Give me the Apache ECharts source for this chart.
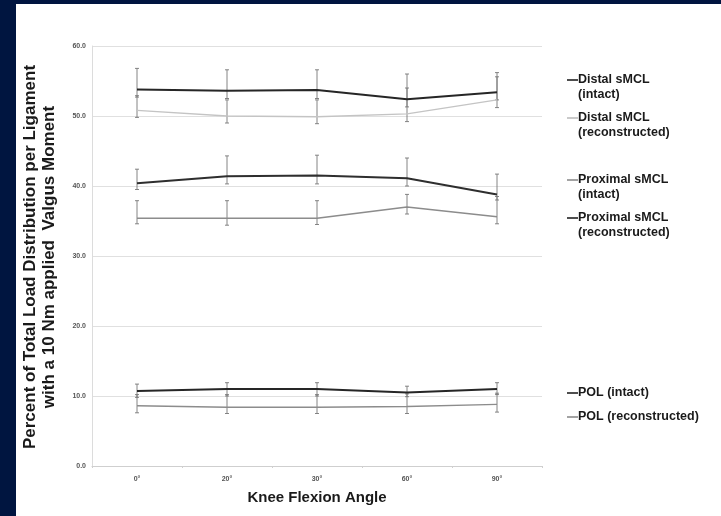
<!DOCTYPE html>
<html><head><meta charset="utf-8">
<script src="https://cdn.jsdelivr.net/npm/echarts@6/dist/echarts.min.js"></script>
<style>
html,body{margin:0;padding:0;background:#001540;width:721px;height:516px;overflow:hidden;}
#c{position:absolute;left:16px;top:4px;width:705px;height:512px;background:#fff;}
</style></head><body>
<div id="c"></div>
<script>
// Categories and tick labels
var angles = ['0°','20°','30°','60°','90°'];
var yTicks = [0, 10, 20, 30, 40, 50, 60];

// Means
var distalIntact   = [53.8, 53.6, 53.7, 52.4, 53.4];
var distalRecon    = [50.8, 50.0, 49.9, 50.3, 52.3];
var proxIntact     = [40.4, 41.4, 41.5, 41.1, 38.8];
var proxRecon      = [35.4, 35.4, 35.4, 37.0, 35.6];
var polIntact      = [10.7, 11.0, 11.0, 10.5, 11.0];
var polRecon       = [8.6, 8.4, 8.4, 8.5, 8.8];

// Error bar ends (upper / lower)
var distalIntactHi = [56.8, 56.6, 56.6, 56.0, 56.2];
var distalIntactLo = [52.7, 52.5, 52.5, 51.3, 52.3];
var distalReconHi  = [52.9, 52.3, 52.3, 54.0, 55.6];
var distalReconLo  = [49.8, 49.0, 48.9, 49.2, 51.2];
var proxIntactHi   = [42.4, 44.3, 44.4, 44.0, 41.7];
var proxIntactLo   = [39.5, 40.3, 40.3, 40.0, 38.0];
var proxReconHi    = [37.9, 37.9, 37.9, 38.8, 38.5];
var proxReconLo    = [34.6, 34.4, 34.5, 36.0, 34.6];
var polIntactHi    = [11.7, 11.9, 11.9, 11.4, 11.9];
var polIntactLo    = [9.8, 10.0, 10.0, 9.9, 10.2];
var polReconHi     = [10.2, 10.2, 10.2, 10.3, 10.4];
var polReconLo     = [7.6, 7.5, 7.5, 7.5, 7.7];

var names = ['Distal sMCL (intact)','Distal sMCL (reconstructed)','Proximal sMCL (intact)','Proximal sMCL (reconstructed)','POL (intact)','POL (reconstructed)'];
var means = [distalIntact, distalRecon, proxIntact, proxRecon, polIntact, polRecon];
var his = [distalIntactHi, distalReconHi, proxIntactHi, proxReconHi, polIntactHi, polReconHi];
var los = [distalIntactLo, distalReconLo, proxIntactLo, proxReconLo, polIntactLo, polReconLo];
var colors = ['#262626','#c4c4c4','#2e2e2e','#8c8c8c','#262626','#8c8c8c'];
var widths = [2, 1.4, 2, 1.6, 2, 1.4];

function errRender(params, api) {
  var x = api.value(0);
  var p1 = api.coord([x, api.value(1)]);
  var p2 = api.coord([x, api.value(2)]);
  var w = 2;
  var st = {stroke:'#777', lineWidth:0.9};
  return {type:'group', children:[
    {type:'line', shape:{x1:p1[0], y1:p1[1], x2:p2[0], y2:p2[1]}, style:st},
    {type:'line', shape:{x1:p1[0]-w, y1:p1[1], x2:p1[0]+w, y2:p1[1]}, style:st},
    {type:'line', shape:{x1:p2[0]-w, y1:p2[1], x2:p2[0]+w, y2:p2[1]}, style:st}
  ]};
}

var series = [];
for (var i = 0; i < names.length; i++) {
  var d = [];
  for (var j = 0; j < angles.length; j++) d.push([j, los[i][j], his[i][j]]);
  series.push({type:'custom', name:names[i]+' err', renderItem:errRender, data:d, z:1, silent:true, encode:{x:0, y:[1,2]}});
}
for (var k = 0; k < names.length; k++) {
  series.push({type:'line', name:names[k], data:means[k], symbol:'none', z:3,
    lineStyle:{color:colors[k], width:widths[k]}, itemStyle:{color:colors[k]}});
}

// Legend (placed beside the curves as in the original)
var legendItems = [
  {lines:['Distal sMCL','(intact)'], y:76, color:'#222'},
  {lines:['Distal sMCL','(reconstructed)'], y:114, color:'#bdbdbd'},
  {lines:['Proximal sMCL','(intact)'], y:176, color:'#8c8c8c'},
  {lines:['Proximal sMCL','(reconstructed)'], y:214, color:'#222'},
  {lines:['POL (intact)'], y:389, color:'#222'},
  {lines:['POL (reconstructed)'], y:413, color:'#8c8c8c'}
];
var graphics = [];
legendItems.forEach(function(it){
  graphics.push({type:'line', shape:{x1:551, y1:it.y, x2:562, y2:it.y}, style:{stroke:it.color, lineWidth:1.6}});
  it.lines.forEach(function(t, n){
    graphics.push({type:'text', x:562, y:it.y + n*15, style:{text:t, fontFamily:'Liberation Sans, Arial, sans-serif', fontWeight:'bold', fontSize:12.5, fill:'#1a1a1a', textAlign:'left', textVerticalAlign:'middle'}});
  });
});
graphics.push({type:'text', x:24, y:253, rotation:Math.PI/2,
  style:{text:'Percent of Total Load Distribution per Ligament\nwith a 10 Nm applied  Valgus Moment', fontFamily:'Liberation Sans, Arial, sans-serif', fontWeight:'bold', fontSize:17, lineHeight:19, fill:'#1a1a1a', textAlign:'center', textVerticalAlign:'middle'}});

var chart = echarts.init(document.getElementById('c'), null, {renderer:'canvas'});
chart.setOption({
  backgroundColor:'#fff',
  animation:false,
  grid:{left:76, right:179, top:42, bottom:50, containLabel:false},
  xAxis:{type:'category', data:angles, boundaryGap:true,
    axisLine:{lineStyle:{color:'#cfcfcf', width:1}},
    axisTick:{show:true, length:2, lineStyle:{color:'#cfcfcf'}},
    axisLabel:{fontSize:7, fontWeight:'bold', color:'#555', margin:10, fontFamily:'Liberation Sans, Arial, sans-serif'},
    name:'Knee Flexion Angle', nameLocation:'middle', nameGap:24,
    nameTextStyle:{fontSize:15, fontWeight:'bold', color:'#1a1a1a', fontFamily:'Liberation Sans, Arial, sans-serif'}
  },
  yAxis:{type:'value', min:yTicks[0], max:yTicks[yTicks.length-1], interval:10,
    axisLine:{show:true, lineStyle:{color:'#dcdcdc'}},
    axisTick:{show:false},
    splitLine:{lineStyle:{color:'#e0e0e0', width:1}},
    axisLabel:{fontSize:7, fontWeight:'bold', color:'#555', margin:6, fontFamily:'Liberation Sans, Arial, sans-serif',
      formatter:function(v){return v.toFixed(1);}}
  },
  graphic:graphics,
  series:series
});
</script>
</body></html>
